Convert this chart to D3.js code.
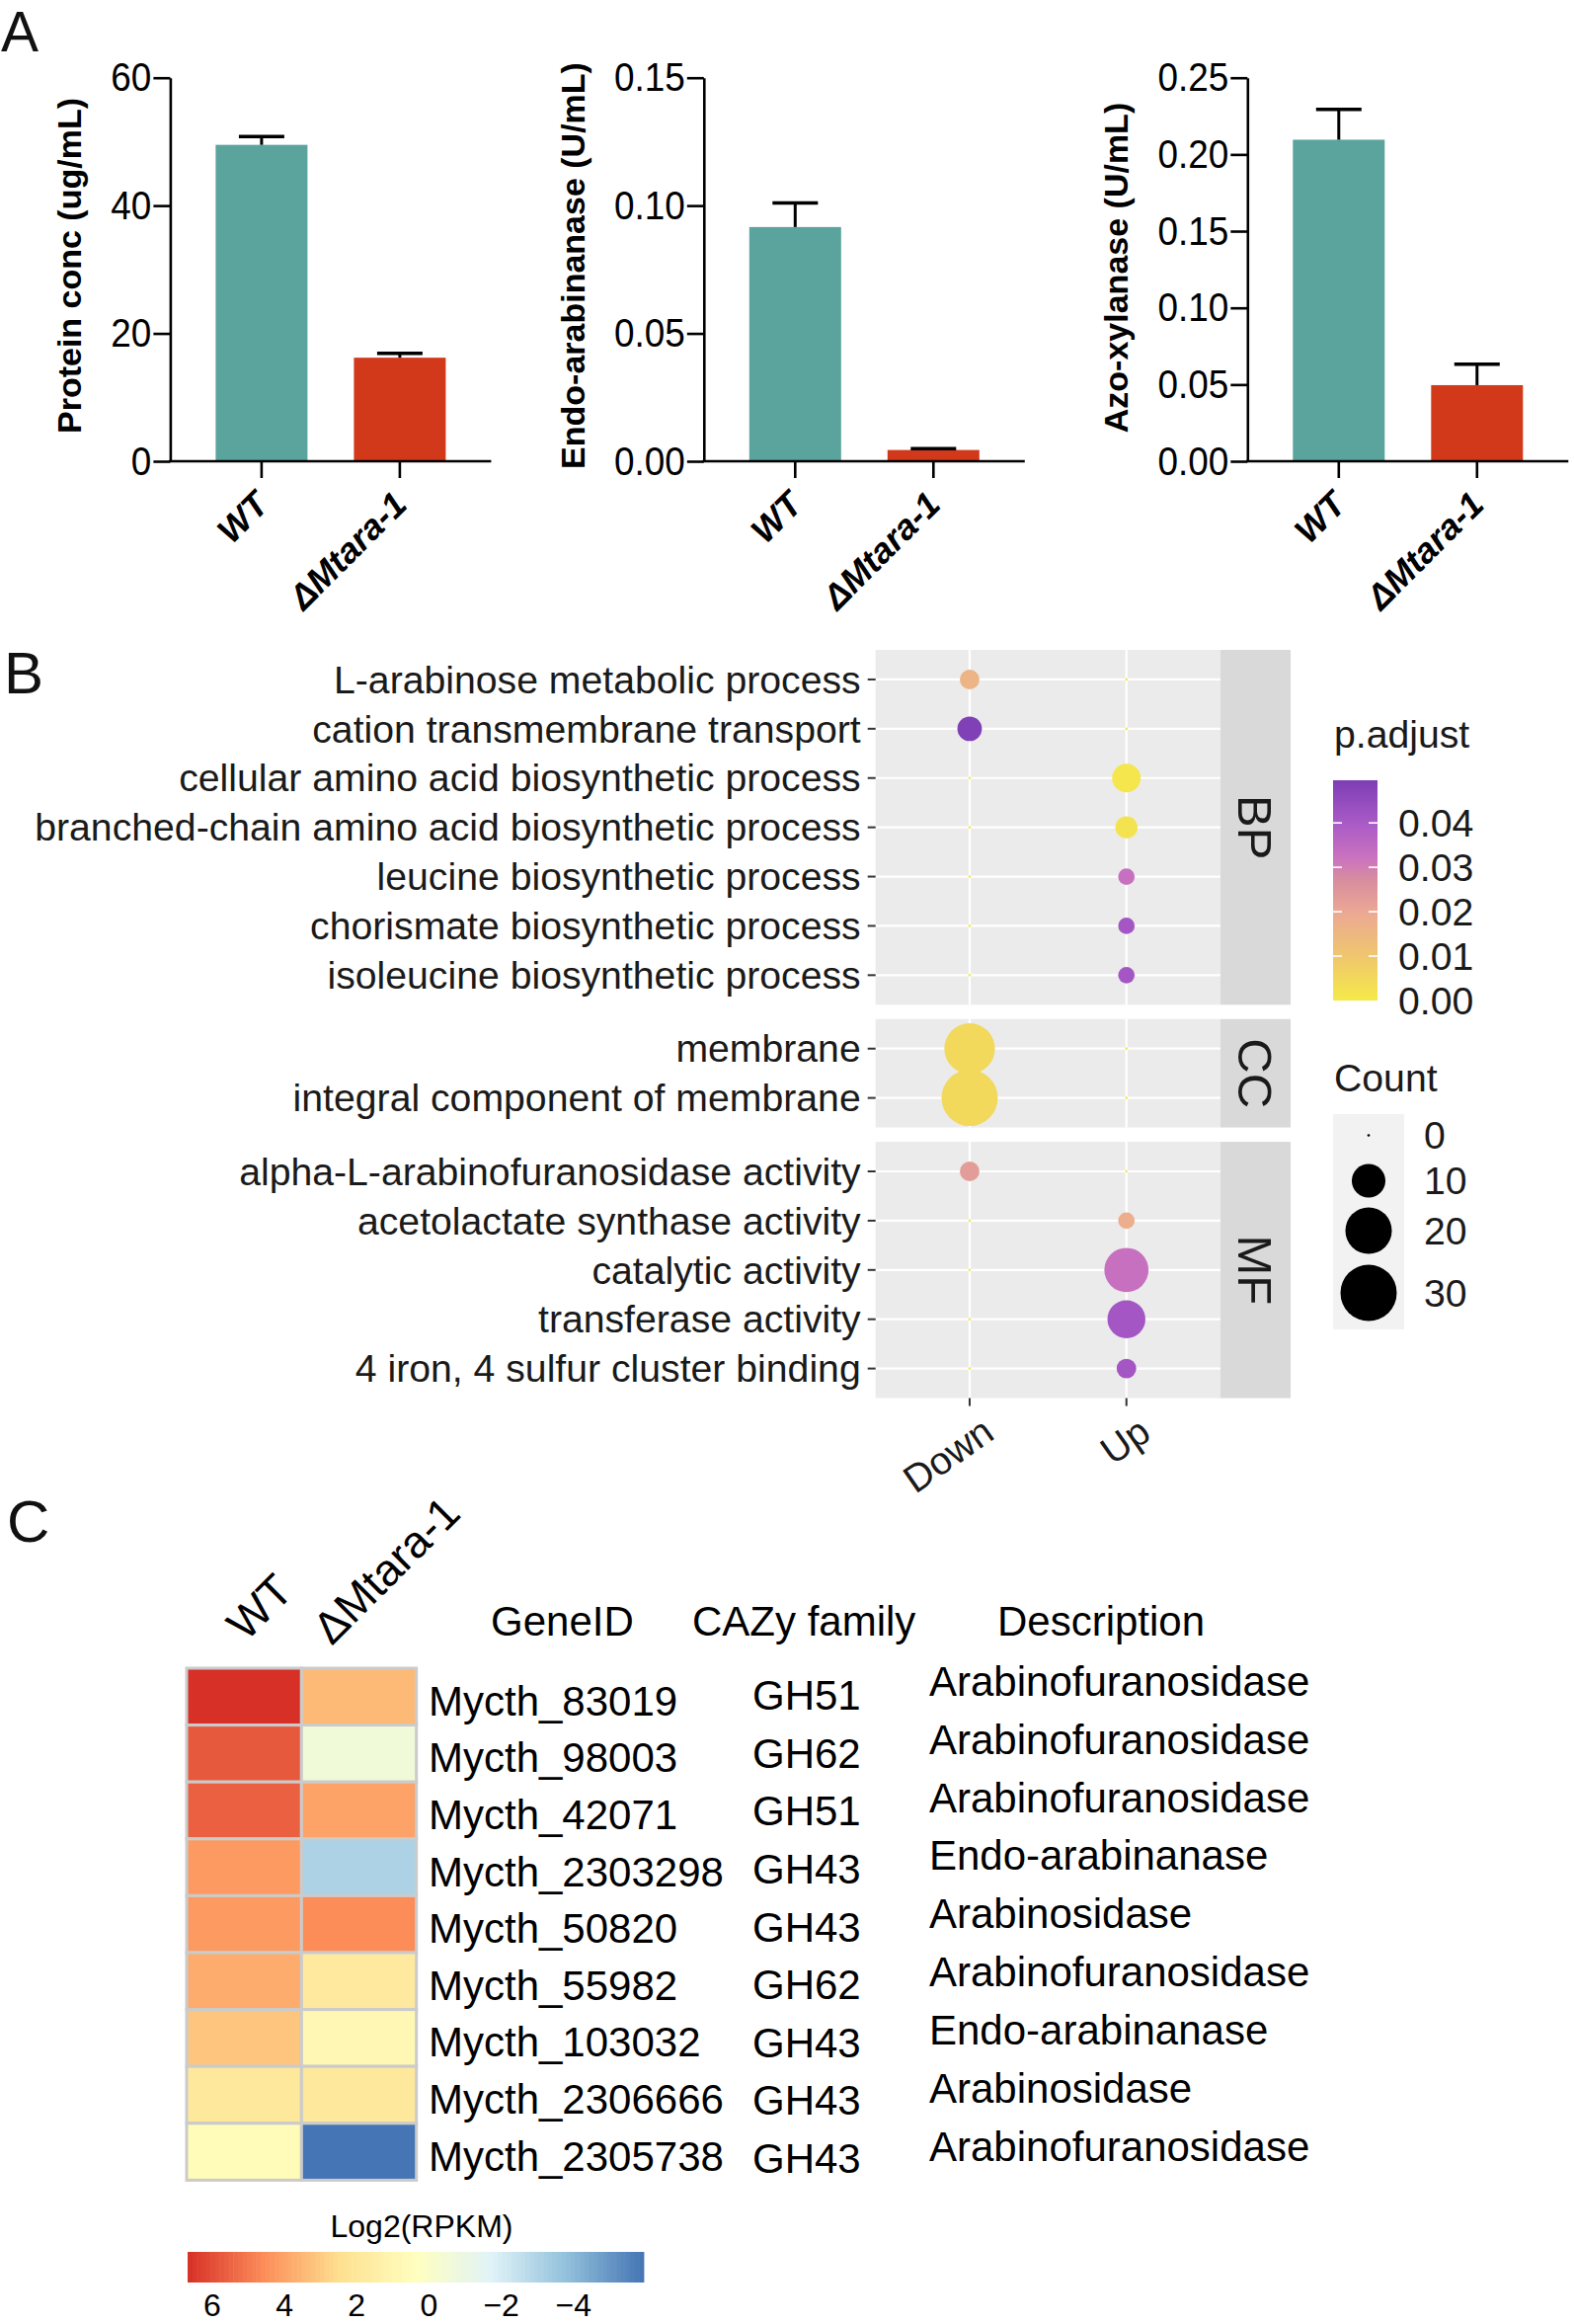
<!DOCTYPE html>
<html>
<head>
<meta charset="utf-8">
<script src="https://cdn.jsdelivr.net/npm/d3@7"></script>
<style>
  html, body { margin: 0; padding: 0; background: #ffffff; }
  svg { display: block; font-family: "Liberation Sans", Arial, Helvetica, sans-serif; }
</style>
</head>
<body>
<svg id="fig" width="1594" height="2353" viewBox="0 0 1594 2353"></svg>
<script>
// ---------------- DATA ----------------
// Panel A
const groups = ["WT", "\u0394Mtara-1"];
const proteinMean = [49.5, 16.2];
const proteinErr = [1.3, 0.7];
const proteinTicks = [0, 20, 40, 60];
const arabinanaseMean = [0.0916, 0.0044];
const arabinanaseErr = [0.0094, 0.0005];
const arabinanaseTicks = [0, 0.05, 0.10, 0.15];
const xylanaseMean = [0.2096, 0.0496];
const xylanaseErr = [0.0198, 0.0136];
const xylanaseTicks = [0, 0.05, 0.10, 0.15, 0.20, 0.25];

// Panel B
const goTerms = [
  "L-arabinose metabolic process",
  "cation transmembrane transport",
  "cellular amino acid biosynthetic process",
  "branched-chain amino acid biosynthetic process",
  "leucine biosynthetic process",
  "chorismate biosynthetic process",
  "isoleucine biosynthetic process",
  "membrane",
  "integral component of membrane",
  "alpha-L-arabinofuranosidase activity",
  "acetolactate synthase activity",
  "catalytic activity",
  "transferase activity",
  "4 iron, 4 sulfur cluster binding"
];
const goOntology = ["BP","BP","BP","BP","BP","BP","BP","CC","CC","MF","MF","MF","MF","MF"];
const ontologies = ["BP", "CC", "MF"];
const directions = ["Down", "Up"];
const downCount = [3, 5, 0, 0, 0, 0, 0, 24, 30, 3, 0, 0, 0, 0];
const upCount   = [0, 0, 7, 4, 2, 2, 2, 0, 0, 0, 2, 18, 13, 3];
const downPadj  = [0.016, 0.049, 0, 0, 0, 0, 0, 0.005, 0.005, 0.023, 0, 0, 0, 0];
const upPadj    = [0, 0, 0.001, 0.002, 0.033, 0.041, 0.041, 0, 0, 0, 0.018, 0.033, 0.041, 0.041];
const padjTicks = [0, 0.01, 0.02, 0.03, 0.04];
const countTicks = [0, 10, 20, 30];

// Panel C
const heatSamples = ["WT", "\u0394Mtara-1"];
const geneIds = ["Mycth_83019","Mycth_98003","Mycth_42071","Mycth_2303298","Mycth_50820",
                 "Mycth_55982","Mycth_103032","Mycth_2306666","Mycth_2305738"];
const cazyFamily = ["GH51","GH62","GH51","GH43","GH43","GH62","GH43","GH43","GH43"];
const descriptions = ["Arabinofuranosidase","Arabinofuranosidase","Arabinofuranosidase",
                      "Endo-arabinanase","Arabinosidase","Arabinofuranosidase",
                      "Endo-arabinanase","Arabinosidase","Arabinofuranosidase"];
const log2WT  = [6.68, 5.75, 5.6, 4.24, 4.24, 3.79, 3.15, 1.93, 0.64];
const log2Mut = [3.44, -0.57, 4.02, -3.1, 4.58, 1.86, 0.92, 1.93, -5.94];
const heatLegendTicks = [6, 4, 2, 0, -2, -4];

// ---------------- DRAW ----------------
const svg = d3.select("#fig");
const FONT = '"Liberation Sans", Arial, Helvetica, sans-serif';

// panel letters
[["A", 1, 52, 57], ["B", 4, 702, 60], ["C", 7, 1561, 60]].forEach(([t, x, y, fs]) => {
  svg.append("text").attr("x", x).attr("y", y).attr("font-size", fs).attr("fill", "#111").text(t);
});

// ---------- Panel A ----------
const teal = "#5ba39d", red = "#d2391b";
const barCharts = [
  { x0: 172.4, mean: proteinMean, err: proteinErr, ticks: proteinTicks, max: 60, fmt: d3.format("d"),
    label: "Protein conc (ug/mL)", labelX: 82, labelY: 269 },
  { x0: 712.8, mean: arabinanaseMean, err: arabinanaseErr, ticks: arabinanaseTicks, max: 0.15, fmt: d3.format(".2f"),
    label: "Endo-arabinanase (U/mL)", labelX: 592, labelY: 269 },
  { x0: 1263.3, mean: xylanaseMean, err: xylanaseErr, ticks: xylanaseTicks, max: 0.25, fmt: d3.format(".2f"),
    label: "Azo-xylanase (U/mL)", labelX: 1142, labelY: 271 }
];
const aTop = 78.7, aBottom = 467;
const tickSqueeze = 0.9;
barCharts.forEach(c => {
  const g = svg.append("g");
  const y = d3.scaleLinear().domain([0, c.max]).range([aBottom, aTop]);
  const x = d3.scalePoint().domain(groups).range([c.x0 + 92.5, c.x0 + 232.5]);
  const bw = 93;
  // bars
  g.selectAll("rect.bar").data(groups).enter().append("rect")
    .attr("x", d => x(d) - bw / 2).attr("width", bw)
    .attr("y", (d, i) => y(c.mean[i])).attr("height", (d, i) => aBottom - y(c.mean[i]))
    .attr("fill", (d, i) => i === 0 ? teal : red);
  // error bars
  g.selectAll("line.err").data(groups).enter().append("line")
    .attr("x1", d => x(d)).attr("x2", d => x(d))
    .attr("y1", (d, i) => y(c.mean[i])).attr("y2", (d, i) => y(c.mean[i] + c.err[i]))
    .attr("stroke", "#000").attr("stroke-width", 3);
  g.selectAll("line.cap").data(groups).enter().append("line")
    .attr("x1", d => x(d) - 23).attr("x2", d => x(d) + 23)
    .attr("y1", (d, i) => y(c.mean[i] + c.err[i])).attr("y2", (d, i) => y(c.mean[i] + c.err[i]))
    .attr("stroke", "#000").attr("stroke-width", 3.5);
  // y axis
  const ya = g.append("g").attr("transform", `translate(${c.x0},0)`)
    .call(d3.axisLeft(y).tickValues(c.ticks).tickFormat(c.fmt).tickSize(17).tickSizeOuter(0).tickPadding(3));
  ya.select(".domain").attr("stroke", "#000").attr("stroke-width", 2.6);
  ya.selectAll(".tick line").attr("stroke", "#000").attr("stroke-width", 2.6);
  ya.selectAll(".tick text").attr("font-size", 41).attr("font-family", FONT).attr("fill", "#000")
    .attr("x", -19 / tickSqueeze).attr("transform", `scale(${tickSqueeze},1)`);
  // x axis line
  g.append("line").attr("x1", c.x0 - 1.3).attr("x2", c.x0 + 325).attr("y1", aBottom).attr("y2", aBottom)
    .attr("stroke", "#000").attr("stroke-width", 2.6);
  g.selectAll("line.xt").data(groups).enter().append("line")
    .attr("x1", d => x(d)).attr("x2", d => x(d)).attr("y1", aBottom).attr("y2", aBottom + 17)
    .attr("stroke", "#000").attr("stroke-width", 2.6);
  // x labels
  g.selectAll("text.xl").data(groups).enter().append("text")
    .attr("transform", d => `translate(${x(d) + 9},${aBottom + 46}) rotate(-45)`)
    .attr("text-anchor", "end").attr("font-size", 35.5).attr("font-weight", "bold").attr("font-style", "italic")
    .text(d => d);
  // y label
  g.append("text").attr("transform", `translate(${c.labelX},${c.labelY}) rotate(-90)`)
    .attr("text-anchor", "middle").attr("font-size", 34).attr("font-weight", "bold").text(c.label);
});

// ---------- Panel B ----------
const bLeft = 886.7, bRight = 1236, stripRight = 1307;
const bStep = 49.9, bGap = 14.5, bTop = 658;
const xDir = d3.scalePoint().domain(directions).range([bLeft, bRight]).padding(0.6);
const rSize = d3.scaleSqrt().domain([0, 30]).range([1.35, 28.5]);
const pColor = d3.scaleLinear()
  .domain([0, 0.01, 0.02, 0.028, 0.031, 0.04, 0.0496])
  .range(["#f5ea48", "#efc66e", "#eca895", "#d58a9f", "#cf76be", "#a95ac6", "#7d3eb5"]);
const bFont = 39.2;

let yCursor = bTop;
ontologies.forEach(ont => {
  const terms = goTerms.filter((t, i) => goOntology[i] === ont);
  const h = (terms.length - 1 + 1.2) * bStep;
  const y0 = yCursor, y1 = yCursor + h;
  yCursor = y1 + bGap;
  const yT = d3.scalePoint().domain(terms).range([y0, y1]).padding(0.6);
  const g = svg.append("g");
  g.append("rect").attr("x", bLeft).attr("y", y0).attr("width", bRight - bLeft).attr("height", h).attr("fill", "#ebebeb");
  g.append("rect").attr("x", bRight).attr("y", y0).attr("width", stripRight - bRight).attr("height", h).attr("fill", "#d9d9d9");
  // grid
  g.selectAll("line.hg").data(terms).enter().append("line")
    .attr("x1", bLeft).attr("x2", bRight).attr("y1", d => yT(d)).attr("y2", d => yT(d))
    .attr("stroke", "#fff").attr("stroke-width", 2.2);
  g.selectAll("line.vg").data(directions).enter().append("line")
    .attr("x1", d => xDir(d)).attr("x2", d => xDir(d)).attr("y1", y0).attr("y2", y1)
    .attr("stroke", "#fff").attr("stroke-width", 2.2);
  // y ticks + labels
  g.selectAll("line.yt").data(terms).enter().append("line")
    .attr("x1", bLeft - 8).attr("x2", bLeft).attr("y1", d => yT(d)).attr("y2", d => yT(d))
    .attr("stroke", "#333").attr("stroke-width", 2);
  g.selectAll("text.yl").data(terms).enter().append("text")
    .attr("x", bLeft - 15).attr("y", d => yT(d)).attr("dy", "0.35em")
    .attr("text-anchor", "end").attr("font-size", bFont).attr("fill", "#1a1a1a").text(d => d);
  // dots
  const pts = [];
  goTerms.forEach((t, i) => {
    if (goOntology[i] !== ont) return;
    pts.push({ term: t, dir: "Down", count: downCount[i], p: downPadj[i] });
    pts.push({ term: t, dir: "Up", count: upCount[i], p: upPadj[i] });
  });
  pts.sort((a, b) => b.count - a.count);
  g.selectAll("circle").data(pts).enter().append("circle")
    .attr("cx", d => xDir(d.dir)).attr("cy", d => yT(d.term))
    .attr("r", d => rSize(d.count)).attr("fill", d => pColor(d.p));
  // strip label
  g.append("text").attr("transform", `translate(${(bRight + stripRight) / 2},${(y0 + y1) / 2}) rotate(90)`)
    .attr("text-anchor", "middle").attr("dy", "0.35em").attr("font-size", 49).attr("fill", "#1a1a1a").text(ont);
  if (ont === "MF") {
    g.selectAll("line.xt").data(directions).enter().append("line")
      .attr("x1", d => xDir(d)).attr("x2", d => xDir(d)).attr("y1", y1).attr("y2", y1 + 8)
      .attr("stroke", "#333").attr("stroke-width", 2);
    g.selectAll("text.xl").data(directions).enter().append("text")
      .attr("transform", d => `translate(${xDir(d) + 27},${y1 + 40}) rotate(-35)`)
      .attr("text-anchor", "end").attr("font-size", bFont).attr("fill", "#1a1a1a").text(d => d);
  }
});

// p.adjust legend
const legX = 1351;
svg.append("text").attr("x", legX).attr("y", 757).attr("font-size", bFont).attr("fill", "#1a1a1a").text("p.adjust");
const cbY = d3.scaleLinear().domain([0, 0.0496]).range([1013, 790]);
const grad = svg.append("defs").append("linearGradient").attr("id", "pgrad")
  .attr("x1", 0).attr("y1", 1).attr("x2", 0).attr("y2", 0);
d3.range(0, 1.0001, 0.05).forEach(f => {
  grad.append("stop").attr("offset", f).attr("stop-color", pColor(f * 0.0496));
});
svg.append("rect").attr("x", 1350).attr("y", cbY(0.0496)).attr("width", 45).attr("height", cbY(0) - cbY(0.0496))
  .attr("fill", "url(#pgrad)");
padjTicks.forEach(t => {
  if (t > 0) {
    svg.append("line").attr("x1", 1350).attr("x2", 1359).attr("y1", cbY(t)).attr("y2", cbY(t)).attr("stroke", "#fff").attr("stroke-width", 1.6);
    svg.append("line").attr("x1", 1386).attr("x2", 1395).attr("y1", cbY(t)).attr("y2", cbY(t)).attr("stroke", "#fff").attr("stroke-width", 1.6);
  }
  svg.append("text").attr("x", 1416).attr("y", cbY(t)).attr("dy", "0.35em").attr("font-size", bFont)
    .attr("fill", "#1a1a1a").text(d3.format(".2f")(t));
});

// Count legend
svg.append("text").attr("x", legX).attr("y", 1105).attr("font-size", bFont).attr("fill", "#1a1a1a").text("Count");
const keyHeights = [43, 49, 52, 74];
let ky = 1128;
svg.append("rect").attr("x", 1350).attr("y", ky).attr("width", 72).attr("height", d3.sum(keyHeights)).attr("fill", "#f2f2f2");
countTicks.forEach((c, i) => {
  const cy = ky + keyHeights[i] / 2;
  svg.append("circle").attr("cx", 1386).attr("cy", cy).attr("r", rSize(c)).attr("fill", "#000");
  svg.append("text").attr("x", 1442).attr("y", cy).attr("dy", "0.35em").attr("font-size", bFont).attr("fill", "#1a1a1a").text(c);
  ky += keyHeights[i];
});

// ---------- Panel C ----------
const hx0 = 189, hx1 = 421.7, hy0 = 1689, hy1 = 2207.4;
const xs = d3.scaleBand().domain(heatSamples).range([hx0, hx1]);
const ys = d3.scaleBand().domain(geneIds).range([hy0, hy1]);
const hMin = -5.94, hMax = 6.68;
const rdylbu = ["#4575b4", "#91bfdb", "#e0f3f8", "#ffffbf", "#fee090", "#fc8d59", "#d73027"];
const heatColor = d3.scaleLinear()
  .domain(d3.range(7).map(i => hMin + i * (hMax - hMin) / 6))
  .range(rdylbu).interpolate(d3.interpolateRgb);
const cells = [];
geneIds.forEach((g, i) => {
  cells.push({ gene: g, s: heatSamples[0], v: log2WT[i] });
  cells.push({ gene: g, s: heatSamples[1], v: log2Mut[i] });
});
svg.append("g").selectAll("rect").data(cells).enter().append("rect")
  .attr("x", d => xs(d.s)).attr("y", d => ys(d.gene))
  .attr("width", xs.bandwidth()).attr("height", ys.bandwidth())
  .attr("fill", d => heatColor(d.v)).attr("stroke", "#cbcbcb").attr("stroke-width", 3);

// column labels
const colLabelPos = { "WT": [249, 1663], "\u0394Mtara-1": [336, 1667] };
svg.selectAll("text.cl").data(heatSamples).enter().append("text")
  .attr("transform", d => `translate(${colLabelPos[d][0]},${colLabelPos[d][1]}) rotate(-45)`)
  .attr("font-size", 45.5).attr("fill", "#000").text(d => d);

// headers
[["GeneID", 497], ["CAZy family", 701], ["Description", 1010]].forEach(([t, x]) => {
  svg.append("text").attr("x", x).attr("y", 1656).attr("font-size", 42).attr("fill", "#000").text(t);
});
// gene ids
svg.selectAll("text.gid").data(geneIds).enter().append("text")
  .attr("x", 434).attr("y", d => ys(d) + ys.bandwidth() / 2 + 19).attr("font-size", 42).attr("fill", "#000").text(d => d);
const yGH = d3.scaleLinear().domain([0, 8]).range([1731, 2200]);
svg.selectAll("text.gh").data(cazyFamily).enter().append("text")
  .attr("x", 762).attr("y", (d, i) => yGH(i)).attr("font-size", 42).attr("fill", "#000").text(d => d);
const yDesc = d3.scaleLinear().domain([0, 8]).range([1716.7, 2188]);
svg.selectAll("text.desc").data(descriptions).enter().append("text")
  .attr("x", 941).attr("y", (d, i) => yDesc(i)).attr("font-size", 42).attr("fill", "#000").text(d => d);

// heat legend
const lx = d3.scaleLinear().domain([hMax, hMin]).range([190, 651.8]);
const nSteps = 100;
const stepVals = d3.range(nSteps).map(i => hMax - i * (hMax - hMin) / nSteps);
svg.append("g").selectAll("rect").data(stepVals).enter().append("rect")
  .attr("x", d => lx(d)).attr("y", 2280).attr("width", (651.8 - 190) / nSteps + 0.6).attr("height", 31)
  .attr("fill", d => heatColor(d - (hMax - hMin) / nSteps / 2));
svg.append("text").attr("x", 427).attr("y", 2265).attr("text-anchor", "middle").attr("font-size", 32).text("Log2(RPKM)");
svg.selectAll("text.hl").data(heatLegendTicks).enter().append("text")
  .attr("x", d => lx(d)).attr("y", 2345).attr("text-anchor", "middle").attr("font-size", 32)
  .text(d => d < 0 ? "\u2212" + Math.abs(d) : String(d));
</script>
</body>
</html>
